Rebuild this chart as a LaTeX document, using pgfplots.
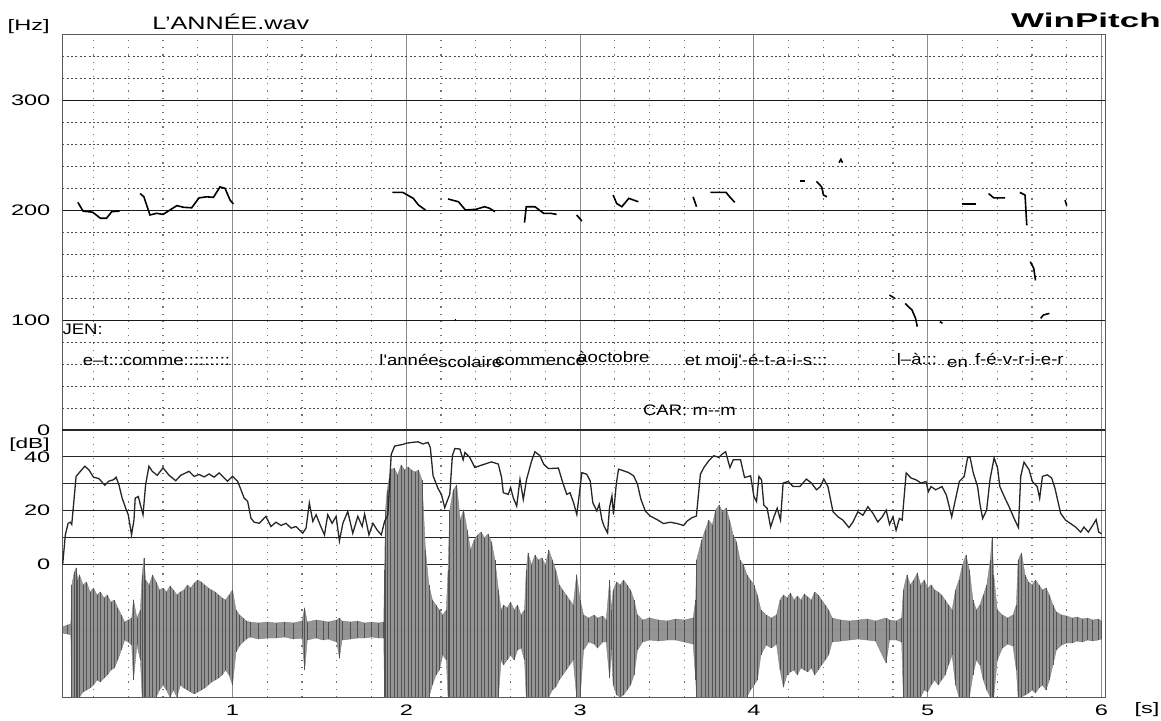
\documentclass[border=0pt]{standalone}
\usepackage{fontspec}
\setmainfont{Liberation Sans}[FakeStretch=1.4]
\newfontfamily\wpfont{Liberation Sans}[FakeStretch=1.75]
\newfontfamily\wordfont{Liberation Sans}[FakeStretch=1.22]
\newfontfamily\tickfont{Liberation Sans}[FakeStretch=1.55]
\usepackage{pgfplots}
\pgfplotsset{compat=1.18}
\usepackage{pgfplotstable}

% waveform envelope (t in s, upper / lower amplitude in screen px from centre line)
\pgfplotstableread{
t up dn
0.02 3 3
0.05 5 4
0.07 6 5
0.075 45 67
0.09 58 67
0.10 62 67
0.11 50 67
0.12 55 67
0.14 45 62
0.16 48 60
0.18 38 58
0.20 42 55
0.22 35 50
0.24 38 52
0.26 32 48
0.28 35 45
0.30 28 40
0.32 30 38
0.34 22 30
0.36 15 20
0.38 8 10
0.40 10 12
0.42 12 15
0.43 30 50
0.45 12 15
0.47 20 30
0.48 55 67
0.49 72 67
0.50 50 67
0.52 45 67
0.54 55 67
0.56 48 67
0.58 40 60
0.60 42 55
0.62 38 60
0.64 44 67
0.66 40 60
0.68 35 67
0.70 38 55
0.72 40 58
0.74 45 60
0.76 42 62
0.78 47 64
0.80 50 62
0.82 48 60
0.84 45 58
0.86 42 55
0.88 40 52
0.90 38 50
0.92 35 48
0.94 32 45
0.96 30 40
0.98 35 45
1.00 40 55
1.02 20 22
1.04 15 16
1.06 12 12
1.08 9 9
1.10 8 7
1.15 7 9
1.20 8 8
1.25 7 8
1.30 8 7
1.35 7 9
1.40 9 8
1.415 22 40
1.43 8 10
1.48 10 8
1.52 9 10
1.55 8 9
1.60 10 12
1.615 12 28
1.63 9 10
1.68 8 9
1.72 9 8
1.76 7 8
1.80 8 7
1.84 7 8
1.87 8 8
1.875 60 67
1.88 120 67
1.89 140 67
1.91 160 67
1.93 162 67
1.95 155 67
1.97 165 67
1.99 160 67
2.01 163 67
2.03 160 67
2.05 158 67
2.07 160 67
2.09 150 67
2.11 80 67
2.13 45 67
2.15 30 55
2.17 25 45
2.19 20 40
2.21 15 25
2.23 20 30
2.24 60 67
2.25 120 67
2.27 140 67
2.29 145 67
2.31 110 67
2.33 120 67
2.35 100 67
2.37 80 67
2.39 90 67
2.41 95 67
2.43 98 67
2.45 92 67
2.47 96 67
2.49 88 67
2.51 70 67
2.53 40 67
2.545 20 30
2.56 25 35
2.58 22 30
2.60 28 25
2.62 20 30
2.64 25 20
2.66 15 18
2.68 20 30
2.69 60 67
2.70 77 67
2.72 65 67
2.74 75 67
2.76 70 67
2.78 72 67
2.80 65 67
2.82 80 67
2.84 70 60
2.86 60 57
2.88 45 50
2.90 40 45
2.92 35 40
2.94 30 35
2.96 25 30
2.98 55 67
3.00 30 67
3.02 15 20
3.05 12 12
3.08 15 14
3.10 12 18
3.13 14 12
3.15 10 12
3.17 50 48
3.18 20 20
3.19 40 55
3.21 48 65
3.23 45 67
3.25 50 65
3.27 45 60
3.29 40 55
3.31 30 45
3.33 15 20
3.36 10 12
3.40 12 10
3.45 10 11
3.50 9 10
3.55 11 10
3.60 10 12
3.65 12 14
3.665 30 50
3.67 70 67
3.70 90 67
3.72 100 67
3.74 110 67
3.76 105 67
3.78 120 67
3.80 125 67
3.82 118 67
3.84 122 67
3.86 110 67
3.88 95 67
3.90 88 67
3.92 70 67
3.94 65 67
3.96 55 67
3.98 50 60
4.00 45 55
4.02 35 50
4.04 20 25
4.07 15 15
4.10 12 18
4.13 15 14
4.15 30 40
4.17 35 57
4.19 32 45
4.21 37 42
4.23 30 40
4.25 34 45
4.27 30 38
4.29 36 40
4.31 33 42
4.33 30 38
4.35 38 45
4.37 35 40
4.39 30 35
4.41 25 30
4.43 20 25
4.45 12 12
4.50 10 11
4.55 9 10
4.60 10 9
4.65 11 10
4.70 9 11
4.76 12 33
4.78 10 10
4.82 9 10
4.85 12 12
4.86 40 67
4.88 55 67
4.90 45 67
4.92 50 67
4.94 57 67
4.96 45 67
4.98 50 60
5.00 42 62
5.02 45 55
5.04 40 50
5.06 38 55
5.08 35 50
5.10 30 45
5.12 25 35
5.14 20 25
5.16 40 55
5.18 50 67
5.20 65 67
5.22 75 67
5.24 60 67
5.26 30 45
5.28 20 30
5.30 25 35
5.32 35 50
5.34 45 60
5.36 70 67
5.37 92 67
5.38 55 67
5.40 20 30
5.43 15 18
5.46 12 14
5.49 15 16
5.51 25 40
5.52 70 67
5.54 77 67
5.56 55 65
5.58 48 63
5.60 45 60
5.62 50 63
5.64 45 58
5.66 40 55
5.68 42 60
5.70 35 50
5.72 25 35
5.74 18 20
5.77 15 15
5.80 14 13
5.83 12 13
5.86 13 11
5.89 11 12
5.92 12 10
5.95 10 11
5.98 11 10
6.00 9 9
}\wave

% intensity curve (t in s, dB)
\pgfplotstableread{
t db
0.023 0
0.038 10.9
0.054 15.2
0.067 15.6
0.075 14.8
0.100 32.7
0.125 34.6
0.150 36.5
0.173 35.2
0.200 32.4
0.231 31.9
0.265 29.4
0.288 30.9
0.317 31.5
0.330 32.4
0.346 29.6
0.365 24.6
0.385 20.9
0.400 18.4
0.419 10.9
0.433 16.5
0.440 24.6
0.458 25.2
0.470 22.1
0.485 18.4
0.500 29.6
0.519 36.5
0.538 34.6
0.567 33.1
0.600 35.9
0.635 33.1
0.673 31.1
0.702 33.1
0.750 34.6
0.779 32.7
0.808 33.4
0.837 32.5
0.865 33.6
0.894 32.4
0.923 34.0
0.952 32.1
0.971 30.9
1.000 32.7
1.029 30.9
1.048 27.8
1.067 24.6
1.087 23.4
1.106 17.1
1.125 15.6
1.154 15.2
1.192 17.8
1.221 14.0
1.250 15.6
1.279 14.4
1.308 15.2
1.337 13.4
1.365 14.0
1.404 11.5
1.423 13.4
1.442 22.8
1.462 15.9
1.481 18.4
1.504 14.6
1.529 10.9
1.548 18.4
1.573 15.2
1.596 17.8
1.615 8.6
1.635 15.2
1.663 19.6
1.692 11.5
1.721 17.8
1.746 14.0
1.760 18.6
1.785 10.9
1.808 15.2
1.831 12.8
1.856 10.9
1.875 15.9
1.894 18.4
1.913 40.9
1.933 44.0
1.962 44.4
1.980 44.6
2.000 45.1
2.038 45.4
2.067 45.6
2.096 44.8
2.125 45.4
2.138 43.5
2.154 32.9
2.183 28.1
2.202 26
2.221 21
2.235 23.5
2.250 26
2.265 40.4
2.279 43.1
2.308 42.9
2.327 38.9
2.337 41.6
2.365 39.8
2.394 36
2.433 36.9
2.490 38.1
2.529 37.3
2.548 32.3
2.558 26.6
2.587 26
2.600 28.5
2.615 24.8
2.635 21.6
2.654 31.6
2.673 24.1
2.692 31.6
2.721 38.5
2.740 41.9
2.769 40.4
2.790 37.3
2.817 35.6
2.875 35.8
2.900 30.4
2.923 26
2.942 26.6
2.962 22.9
2.981 18.5
2.994 25.4
3.010 34.1
3.038 33.5
3.058 31
3.073 22.9
3.096 19.8
3.110 22.3
3.125 16.6
3.138 14.1
3.158 11.6
3.169 21
3.183 25.4
3.192 18.5
3.208 29.8
3.221 35.4
3.250 34.8
3.279 34.1
3.308 32.9
3.330 29.8
3.350 24.1
3.375 19.8
3.404 17.9
3.442 16.6
3.480 15.1
3.519 15.6
3.558 15.1
3.596 14.4
3.615 16
3.644 17.3
3.669 17.9
3.692 33.5
3.712 36
3.740 38.5
3.769 40.4
3.798 39.8
3.817 41
3.837 41.9
3.862 36
3.881 38.9
3.923 38.9
3.946 32.3
3.981 32.9
4.000 25.2
4.015 23.3
4.029 32.7
4.044 31.4
4.057 22
4.076 20.8
4.096 13.8
4.115 17.6
4.134 20.8
4.153 16.4
4.168 30.2
4.197 30.8
4.226 28.9
4.264 28.9
4.302 31.7
4.331 30.2
4.360 27.7
4.382 28.9
4.402 31.7
4.426 28.9
4.455 19.5
4.484 17.6
4.512 16.4
4.547 13.6
4.570 15.7
4.598 19.5
4.627 18.2
4.656 21.4
4.685 18.9
4.713 15.7
4.738 17.6
4.761 20.1
4.780 14.8
4.800 17.6
4.818 12.6
4.837 17
4.853 16.4
4.876 34
4.904 32.1
4.933 31.4
4.962 30.2
4.990 30.8
5.004 27
5.019 28.9
5.046 27.7
5.082 28.9
5.107 25.8
5.124 21.4
5.138 17.6
5.159 23.9
5.182 30.8
5.210 32.7
5.229 39.6
5.243 40
5.262 34
5.287 28.9
5.300 22.6
5.316 17
5.339 20.1
5.358 31.4
5.382 39.6
5.402 35.8
5.415 28.9
5.440 25.2
5.468 21.4
5.497 17
5.522 13.6
5.535 32.7
5.554 38
5.583 35.2
5.602 30.8
5.630 28.9
5.644 24.5
5.660 32.7
5.688 33.3
5.713 32.1
5.732 28.3
5.765 18.9
5.793 16.4
5.822 15.1
5.851 13.8
5.880 11.9
5.899 13.8
5.924 11.9
5.946 14.1
5.969 16.6
5.984 11.9
6.000 11.3
}\dbdata

\pgfplotsset{
  wp/.style={
    scale only axis,
    anchor=south west,
    width=521.4pt,
    xmin=0.02, xmax=6.02,
    xtick={1,2,3,4,5,6},
    minor xtick={0.2,0.4,0.6,0.8,1.2,1.4,1.6,1.8,2.2,2.4,2.6,2.8,3.2,3.4,3.6,3.8,4.2,4.4,4.6,4.8,5.2,5.4,5.6,5.8},
    xmajorgrids, xminorgrids,
    major x grid style={black!45, line width=0.5pt},
    minor x grid style={black!55, line width=0.6pt, dash pattern=on 0.6pt off 3pt},
    major tick length=0pt, minor tick length=0pt,
    axis line style={black!65, line width=0.5pt},
    tick label style={font=\tickfont\fontsize{7.6}{9}\selectfont},
    yticklabel style={xshift=-2.4pt},
    /pgf/number format/assume math mode=true,
  },
  hid/.style={
    scale only axis, anchor=south west, width=521.4pt,
    xmin=0.02, xmax=6.02, hide axis,
  },
  pitch/.style={black, line width=0.8pt},
}

\begin{document}
\begin{tikzpicture}
\useasboundingbox (0,0) rectangle (580.5pt,360pt);

% lower panel frame and grid: intensity scale (dB)
\begin{axis}[wp, at={(31.1pt,11.5pt)}, height=133.5pt,
  ymin=-49.6, ymax=50,
  ytick={0,10,20,30,40}, yticklabels={0,,20,,40},
  ymajorgrids, major y grid style={black!85, line width=0.5pt},
  xticklabels={1,2,3,4,5,6},
  xticklabel style={yshift=-0.5pt}]
  \addplot[draw=none] coordinates {(1,0)};
\end{axis}

% waveform (centre line at 0, screen px units)
\begin{axis}[hid, at={(31.1pt,11.5pt)}, height=133.5pt, ymin=-67, ymax=200]
  \addplot[fill=black!42, draw=black!48, line width=0.2pt] table[x=t, y=up] {\wave} \closedcycle;
  \addplot[fill=black!42, draw=black!48, line width=0.2pt] table[x=t, y expr={-\thisrow{dn}}] {\wave} \closedcycle;
  \addplot[ycomb, black!68, line width=0.35pt] table[x=t, y=up] {\wave};
  \addplot[ycomb, black!68, line width=0.35pt] table[x=t, y expr={-\thisrow{dn}}] {\wave};
\end{axis}

% intensity curve
\begin{axis}[hid, at={(31.1pt,11.5pt)}, height=133.5pt, ymin=-49.6, ymax=50]
  \addplot[black!85, line width=0.65pt] table[x=t, y=db] {\dbdata};
\end{axis}

% upper panel: pitch (Hz)
\begin{axis}[wp, at={(31.1pt,145pt)}, height=198pt,
  ymin=0, ymax=360,
  ytick={100,200,300}, yticklabels={100,200,300},
  extra y ticks={0}, extra y tick labels={0},
  extra y tick style={major y grid style={black!85, line width=1.1pt}},
  minor ytick={20,40,60,80,120,140,160,180,220,240,260,280,320,340},
  ymajorgrids, yminorgrids,
  major y grid style={black!90, line width=0.5pt},
  minor y grid style={black!70, line width=0.45pt, dash pattern=on 1pt off 1.2pt},
  xticklabels={}]
  \addplot[pitch] coordinates {(0.11,207) (0.14,199) (0.195,198) (0.24,192.5) (0.275,192.5) (0.305,198.5) (0.35,199)};
  \addplot[pitch] coordinates {(0.468,215) (0.49,212) (0.525,195.5) (0.563,197) (0.60,196) (0.64,200) (0.68,204) (0.717,202.5) (0.765,202) (0.807,211) (0.85,212) (0.89,211.5) (0.928,221) (0.957,219.7) (0.986,209) (1.005,205.5)};
  \addplot[pitch] coordinates {(1.92,216) (1.98,216) (2.04,210.6) (2.07,204.5) (2.11,200)};
  \addplot[pitch] coordinates {(2.24,210) (2.30,207.5) (2.34,200) (2.40,200.6) (2.45,203) (2.48,201.5) (2.51,198.5)};
  \addplot[pitch] coordinates {(2.28,100) (2.286,100)};
  \addplot[pitch] coordinates {(2.68,188.5) (2.69,203) (2.74,203) (2.79,197) (2.83,197) (2.865,196)};
  \addplot[pitch] coordinates {(2.98,195.5) (3.01,190)};
  \addplot[pitch] coordinates {(3.19,213.6) (3.21,206) (3.24,203) (3.28,210.6) (3.335,207.5)};
  \addplot[pitch] coordinates {(3.65,212) (3.67,203)};
  \addplot[pitch] coordinates {(3.75,216) (3.84,216) (3.86,212) (3.89,207)};
  \addplot[pitch] coordinates {(4.265,226.6) (4.295,226.6)};
  \addplot[pitch] coordinates {(4.36,226) (4.39,221) (4.40,213.6) (4.42,212)};
  \addplot[pitch] coordinates {(4.49,243) (4.50,246) (4.51,243)};
  \addplot[pitch] coordinates {(4.78,122.7) (4.81,119.7)};
  \addplot[pitch] coordinates {(4.87,115) (4.91,109) (4.93,101.5) (4.94,94)};
  \addplot[pitch] coordinates {(5.07,98.5) (5.085,97)};
  \addplot[pitch] coordinates {(5.195,205.5) (5.28,205.5)};
  \addplot[pitch] coordinates {(5.35,215) (5.38,211) (5.445,211)};
  \addplot[pitch] coordinates {(5.53,216) (5.56,213.6) (5.57,186)};
  \addplot[pitch] coordinates {(5.59,153) (5.61,147) (5.62,136)};
  \addplot[pitch] coordinates {(5.65,101.5) (5.665,104.5) (5.70,106)};
  \addplot[pitch] coordinates {(5.79,209) (5.80,204)};
  % transcription
  \begin{scope}[every node/.style={font=\wordfont\fontsize{7.6}{9}\selectfont, inner sep=0pt, anchor=base west}]
    \node at (axis cs:0.02,86.4) {JEN:};
    \node at (axis cs:0.136,59) {e–t:::};
    \node at (axis cs:0.367,59) {comme:::::::::};
    \node at (axis cs:1.843,59) {l'année};
    \node at (axis cs:2.182,56.6) {scolaire};
    \node at (axis cs:2.51,58.2) {commence};
    \node at (axis cs:2.982,61) {àoctobre};
    \node at (axis cs:3.60,58.2) {et moi};
    \node at (axis cs:3.885,58.2) {j'-é-t-a-i-s:::};
    \node at (axis cs:4.82,60) {l–à:::};
    \node at (axis cs:5.11,56.8) {en};
    \node at (axis cs:5.27,60) {f-é-v-r-i-e-r};
    \node at (axis cs:3.36,13) {CAR: m-{}-m};
  \end{scope}
\end{axis}

% titles and units
\node[anchor=east, font=\tickfont\fontsize{7.6}{9}\selectfont, inner sep=0pt] at (25pt,346.5pt) {[Hz]};
\node[anchor=west, font=\fontsize{9}{11}\selectfont, inner sep=0pt] at (76pt,349pt) {L'ANNÉE.wav};
\node[anchor=east, font=\wpfont\bfseries\fontsize{10}{12}\selectfont, inner sep=0pt] at (580.5pt,350pt) {WinPitch};
\node[anchor=east, font=\tickfont\fontsize{7.3}{9}\selectfont, inner sep=0pt] at (25pt,137.6pt) {[dB]};
\node[anchor=center, font=\tickfont\fontsize{7.6}{9}\selectfont, inner sep=0pt] at (573.5pt,5pt) {[s]};
\end{tikzpicture}
\end{document}
